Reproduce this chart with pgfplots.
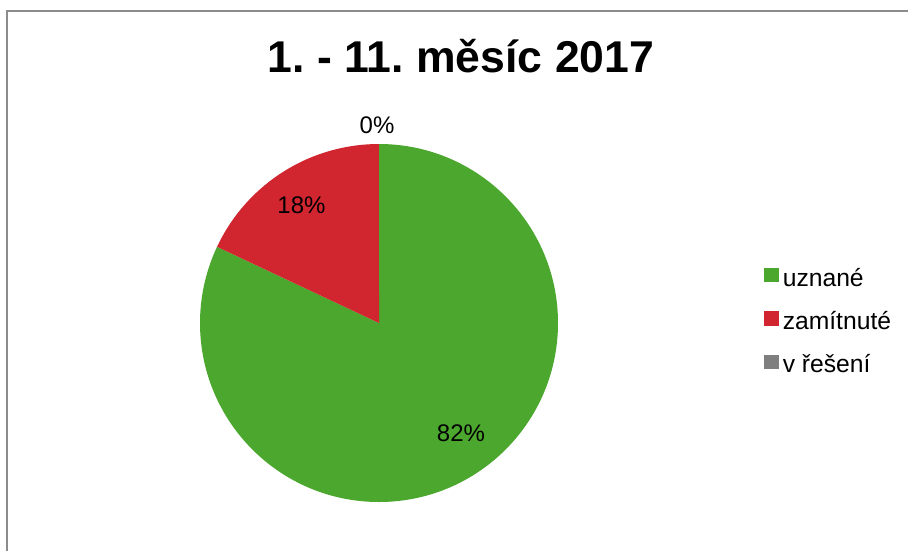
\documentclass[border=0pt]{standalone}
\usepackage{pgfplots}
\pgfplotsset{compat=1.18}
\usepackage{pgfplotstable}
\usepackage{fontspec}
\setmainfont{Liberation Sans}
\definecolor{pgreen}{RGB}{76,167,46}
\definecolor{pred}{RGB}{209,38,48}
\definecolor{pgray}{RGB}{127,127,127}
\definecolor{framegray}{RGB}{140,140,140}

\pgfplotstableread[col sep=comma]{
label,value
uznané,82
zamítnuté,18
v řešení,0
}\piedata

\begin{document}
\frenchspacing
\begin{tikzpicture}
\path[use as bounding box] (0,0) rectangle (681pt,-413.25pt);
\draw[framegray, line width=1.5pt] (5.25pt,-413.25pt) -- (5.25pt,-7.9pt) -- (681pt,-7.9pt);
\node[anchor=base, inner sep=0pt, font=\bfseries\fontsize{33.4}{40}\selectfont] at (345.75pt,-54pt) {1. - 11. měsíc 2017};
\pgfplotstablegetelem{0}{value}\of\piedata \pgfmathsetmacro\va{\pgfplotsretval}
\pgfplotstablegetelem{1}{value}\of\piedata \pgfmathsetmacro\vb{\pgfplotsretval}
\pgfplotstablegetelem{2}{value}\of\piedata \pgfmathsetmacro\vc{\pgfplotsretval}
\pgfmathsetmacro\total{\va+\vb+\vc}
\pgfmathsetmacro\fa{\va/\total}
\pgfmathsetmacro\fb{\vb/\total}
\pgfmathsetmacro\fc{\vc/\total}
\pgfmathsetmacro\aA{90-360*\fa}
\pgfmathsetmacro\aB{\aA-360*\fb}
\pgfmathtruncatemacro\pa{round(100*\fa)}
\pgfmathtruncatemacro\pb{round(100*\fb)}
\pgfmathtruncatemacro\pc{round(100*\fc)}
\begin{axis}[
  at={(284.25pt,-242.25pt)}, anchor=center,
  width=268.5pt, height=268.5pt, scale only axis,
  hide axis, xmin=-1, xmax=1, ymin=-1, ymax=1, clip=false,
  legend style={draw=none, fill=none, at={(1.5754,0.5)}, anchor=west,
    font=\fontsize{18.5}{22}\selectfont, inner sep=0pt, row sep=15pt,
    nodes={text height=13.5pt, text depth=4pt, inner sep=0pt, inner xsep=3.5pt}},
  legend cell align=left,
]
\fill[pgreen] (axis cs:0,0) -- (axis cs:0,1) arc[start angle=90, end angle=\aA, radius=134.25pt] -- cycle;
\fill[pred] (axis cs:0,0) -- (axis cs:{cos(\aA)},{sin(\aA)}) arc[start angle=\aA, end angle=\aB, radius=134.25pt] -- cycle;
\addlegendimage{legend image code/.code={\fill[pgreen] (0pt,-1.5pt) rectangle (10pt,8.5pt);}}
\addlegendentry{uznané}
\addlegendimage{legend image code/.code={\fill[pred] (0pt,-1.5pt) rectangle (10pt,8.5pt);}}
\addlegendentry{zamítnuté}
\addlegendimage{legend image code/.code={\fill[pgray] (0pt,-1.5pt) rectangle (10pt,8.5pt);}}
\addlegendentry{v řešení}
\node[font=\fontsize{18}{22}\selectfont] at (axis cs:0.458,-0.615) {\pa\%};
\node[font=\fontsize{18}{22}\selectfont] at (axis cs:-0.433,0.659) {\pb\%};
\node[font=\fontsize{18}{22}\selectfont] at (axis cs:-0.011,1.106) {\pc\%};
\end{axis}
\end{tikzpicture}
\end{document}
